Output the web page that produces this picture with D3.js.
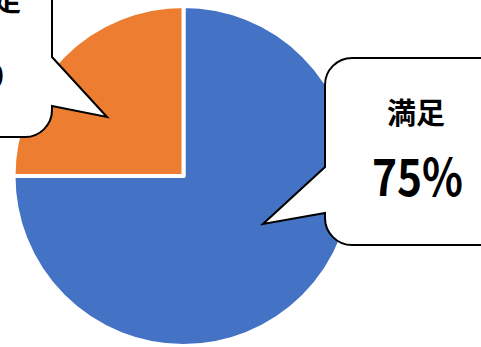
<!DOCTYPE html>
<html>
<head>
<meta charset="utf-8">
<script src="https://cdn.jsdelivr.net/npm/d3@7"></script>
<style>
  html, body { margin: 0; padding: 0; background: #fff; }
  svg { display: block; }
  text { font-family: "Noto Sans CJK JP", "Noto Sans", sans-serif; font-weight: 700; fill: #000; }
</style>
</head>
<body>
<script>
// Survey result: satisfied vs. not satisfied
const categories = ["満足", "不満足"];
const values = [75, 25];
const colors = ["#4472C4", "#ED7D31"];

const width = 481, height = 347;
const cx = 183.5, cy = 176, radius = 170;

const svg = d3.select("body").append("svg")
  .attr("width", width)
  .attr("height", height);

const pie = d3.pie().sort(null).value(d => d)(values);
const arc = d3.arc().innerRadius(0).outerRadius(radius);

const g = svg.append("g").attr("transform", `translate(${cx},${cy})`);
g.selectAll("path.slice")
  .data(pie)
  .join("path")
  .attr("class", "slice")
  .attr("d", arc)
  .attr("fill", (d, i) => colors[i])
  .attr("stroke", "#fff")
  .attr("stroke-width", 4)
  .attr("stroke-linejoin", "round");

// Rounded-rectangle speech bubble with a wedge pointing into the slice
function bubble(box, side, wedge, tip) {
  const { x0, y0, x1, y1, r } = box;
  const p = d3.path();
  p.moveTo(x0 + r, y0);
  p.lineTo(x1 - r, y0);
  p.arcTo(x1, y0, x1, y0 + r, r);
  if (side === "right") {
    p.lineTo(x1, wedge[0]);
    p.lineTo(tip[0], tip[1]);
    p.lineTo(x1, wedge[1]);
  }
  p.lineTo(x1, y1 - r);
  p.arcTo(x1, y1, x1 - r, y1, r);
  p.lineTo(x0 + r, y1);
  p.arcTo(x0, y1, x0, y1 - r, r);
  if (side === "left") {
    p.lineTo(x0, wedge[1]);
    p.lineTo(tip[0], tip[1]);
    p.lineTo(x0, wedge[0]);
  }
  p.lineTo(x0, y0 + r);
  p.arcTo(x0, y0, x0 + r, y0, r);
  p.closePath();
  return p.toString();
}

// Callout layout for each category
const callouts = [
  { box: { x0: 325, y0: 58, x1: 515, y1: 245, r: 27 }, side: "left",
    wedge: [167, 213], tip: [cx + 79.5, cy + 48],
    name: { x: 416, y: 111, anchor: "middle" }, pct: { x: 417.5, y: 196, anchor: "middle" } },
  { box: { x0: -140, y0: -52, x1: 52, y1: 137, r: 27 }, side: "right",
    wedge: [57, 106], tip: [cx - 76.5, cy - 59],
    name: { x: 21, y: -2, anchor: "end" }, pct: { x: 4, y: 87, anchor: "end" } }
];

callouts.forEach((c, i) => {
  svg.append("path")
    .attr("d", bubble(c.box, c.side, c.wedge, c.tip))
    .attr("fill", "#fff")
    .attr("stroke", "#000")
    .attr("stroke-width", 2)
    .attr("stroke-linejoin", "miter");

  svg.append("text")
    .attr("x", c.name.x)
    .attr("y", c.name.y)
    .attr("text-anchor", c.name.anchor)
    .attr("dominant-baseline", "central")
    .attr("font-size", 29)
    .text(categories[i]);

  svg.append("text")
    .attr("x", c.pct.x)
    .attr("y", c.pct.y)
    .attr("text-anchor", c.pct.anchor)
    .attr("font-size", 51)
    .attr("textLength", 91)
    .attr("lengthAdjust", "spacingAndGlyphs")
    .text(`${values[i]}%`);
});
</script>
</body>
</html>
